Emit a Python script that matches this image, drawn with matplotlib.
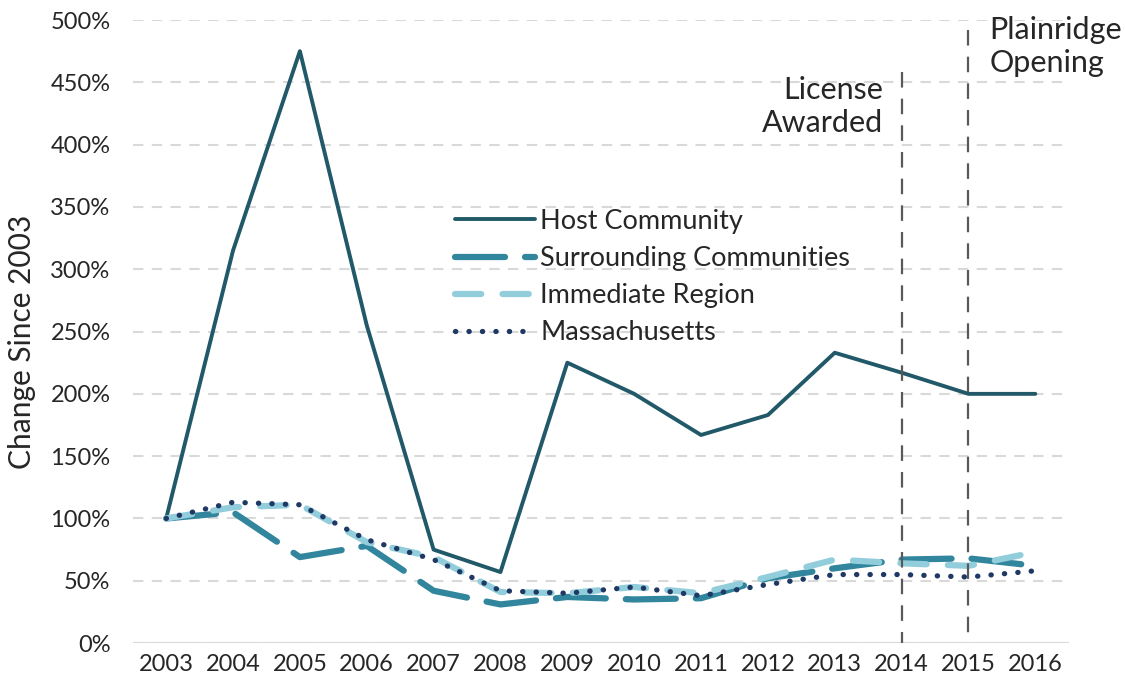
import matplotlib.pyplot as plt
import numpy as np

plt.rcParams['font.family'] = ['Lato', 'DejaVu Sans']

years = list(range(2003, 2017))
host = [100, 315, 475, 255, 75, 57, 225, 200, 167, 183, 233, 217, 200, 200]
surrounding = [100, 105, 69, 78, 42, 31, 37, 35, 36, 52, 60, 67, 68, 62]
immediate = [100, 109, 111, 81, 69, 41, 40, 45, 40, 53, 67, 64, 62, 73]
massachusetts = [100, 113, 111, 83, 67, 42, 40, 45, 38, 47, 55, 55, 53, 58]

events = [2014, 2015]
event_tops = [458, 492]


def plt_change_since_2003():
    fig = plt.figure(figsize=(11.25, 6.9), dpi=100)
    ax = fig.add_axes([0.118, 0.068, 0.832, 0.903])

    ax.plot(years, host, color='#215968', lw=2.8, label='Host Community',
            solid_capstyle='round', zorder=3)
    ax.plot(years, surrounding, color='#31859c', lw=4.5,
            linestyle=(0, (8, 3.2)), dash_capstyle='round',
            label='Surrounding Communities', zorder=4)
    ax.plot(years, immediate, color='#92cddc', lw=4.5,
            linestyle=(0, (4.2, 3.4)), dash_capstyle='round',
            label='Immediate Region', zorder=5)
    ax.plot(years, massachusetts, color='#1f3864', lw=3.8,
            linestyle=(0, (0.05, 2.5)), dash_capstyle='round',
            label='Massachusetts', zorder=6)

    for x, top in zip(events, event_tops):
        ax.plot([x, x], [top, 0], color='#595959', lw=1.6,
                linestyle=(0, (7, 5)), zorder=7)

    ax.text(2013.72, 455, 'License\nAwarded', ha='right', va='top',
            fontsize=22, color='#262626', linespacing=1.2)
    ax.text(2015.31, 503, 'Plainridge\nOpening', ha='left', va='top',
            fontsize=22, color='#262626', linespacing=1.2)

    ax.set_xlim(2002.5, 2016.5)
    ax.set_ylim(0, 500)
    ax.set_xticks(years)
    ax.set_yticks(np.arange(0, 501, 50))
    ax.set_yticklabels([f'{v}%' for v in range(0, 501, 50)])
    ax.tick_params(length=0, labelsize=17, colors='#262626')
    ax.tick_params(axis='y', pad=16)
    ax.tick_params(axis='x', pad=8)
    for s in ax.spines.values():
        s.set_visible(False)
    ax.yaxis.grid(True, color='#d9d9d9', lw=1.5, linestyle=(0, (5, 4)))
    ax.axhline(0, color='#d9d9d9', lw=1.5, zorder=1)
    ax.set_axisbelow(True)
    ax.set_ylabel('Change Since 2003', fontsize=21.5, color='#262626')
    ax.yaxis.set_label_coords(-0.103, 0.484)

    leg = ax.legend(loc='upper left', bbox_to_anchor=(0.344, 0.697),
                    frameon=False, fontsize=19.5, handlelength=2.95,
                    handletextpad=0.2, labelspacing=0.45, borderpad=0,
                    borderaxespad=0)
    for t in leg.get_texts():
        t.set_color('#262626')

    plt.savefig('out.png', dpi=100)


if __name__ == '__main__':
    plt_change_since_2003()
